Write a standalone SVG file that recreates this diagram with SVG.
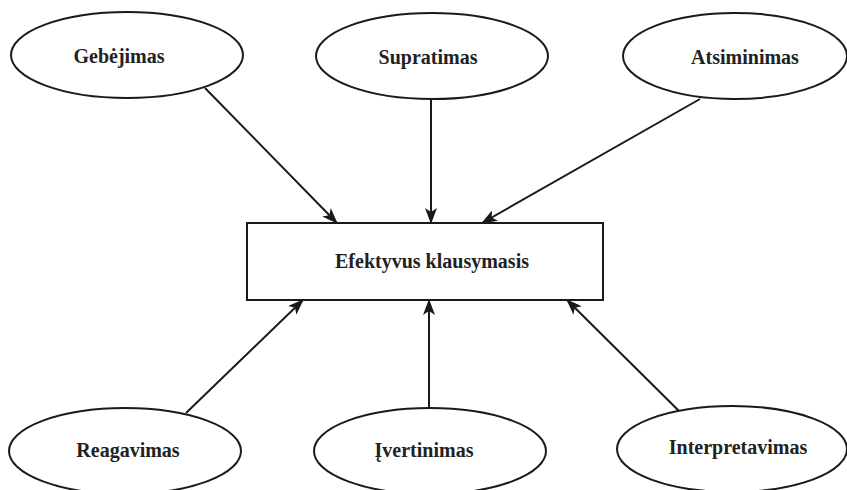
<svg xmlns="http://www.w3.org/2000/svg" width="847" height="490" viewBox="0 0 847 490">
<style>
.n{fill:#fff;stroke:#1a1a1a;stroke-width:2}
.t{font-family:"Liberation Serif","Times New Roman",serif;font-weight:bold;font-size:20px;fill:#222;text-anchor:middle}
.c line{stroke:#1a1a1a;stroke-width:2;marker-end:url(#ah)}
</style>
<defs>
<marker id="ah" markerWidth="16" markerHeight="12" refX="15" refY="6" orient="auto" markerUnits="userSpaceOnUse">
<path d="M0,0 L16,6 L0,12 L4,6 Z" fill="#1a1a1a"/>
</marker>
</defs>
<rect width="847" height="490" fill="#fff"/>
<g class="c" id="connectors">
<line x1="205" y1="88" x2="337" y2="223"/>
<line x1="431" y1="99" x2="431" y2="223"/>
<line x1="700" y1="99" x2="482" y2="223"/>
<line x1="186" y1="413" x2="303" y2="300"/>
<line x1="429" y1="408" x2="429" y2="300"/>
<line x1="679" y1="411" x2="567" y2="300"/>
</g>
<g id="n-gebejimas"><ellipse class="n" cx="127" cy="55" rx="116" ry="43"/><text class="t" x="119" y="63">Gebėjimas</text></g>
<g id="n-supratimas"><ellipse class="n" cx="432" cy="56" rx="116" ry="43"/><text class="t" x="428" y="64">Supratimas</text></g>
<g id="n-atsiminimas"><ellipse class="n" cx="735" cy="56" rx="112" ry="43"/><text class="t" x="745" y="64">Atsiminimas</text></g>
<g id="n-efektyvus"><rect class="n" x="247" y="223" width="356" height="77"/><text class="t" x="432" y="268">Efektyvus klausymasis</text></g>
<g id="n-reagavimas"><ellipse class="n" cx="125" cy="451" rx="116" ry="43"/><text class="t" x="128" y="457">Reagavimas</text></g>
<g id="n-ivertinimas"><ellipse class="n" cx="430" cy="451" rx="116" ry="43"/><text class="t" x="424" y="457">Įvertinimas</text></g>
<g id="n-interpretavimas"><ellipse class="n" cx="732" cy="449" rx="115" ry="43"/><text class="t" x="738" y="454">Interpretavimas</text></g>
</svg>
